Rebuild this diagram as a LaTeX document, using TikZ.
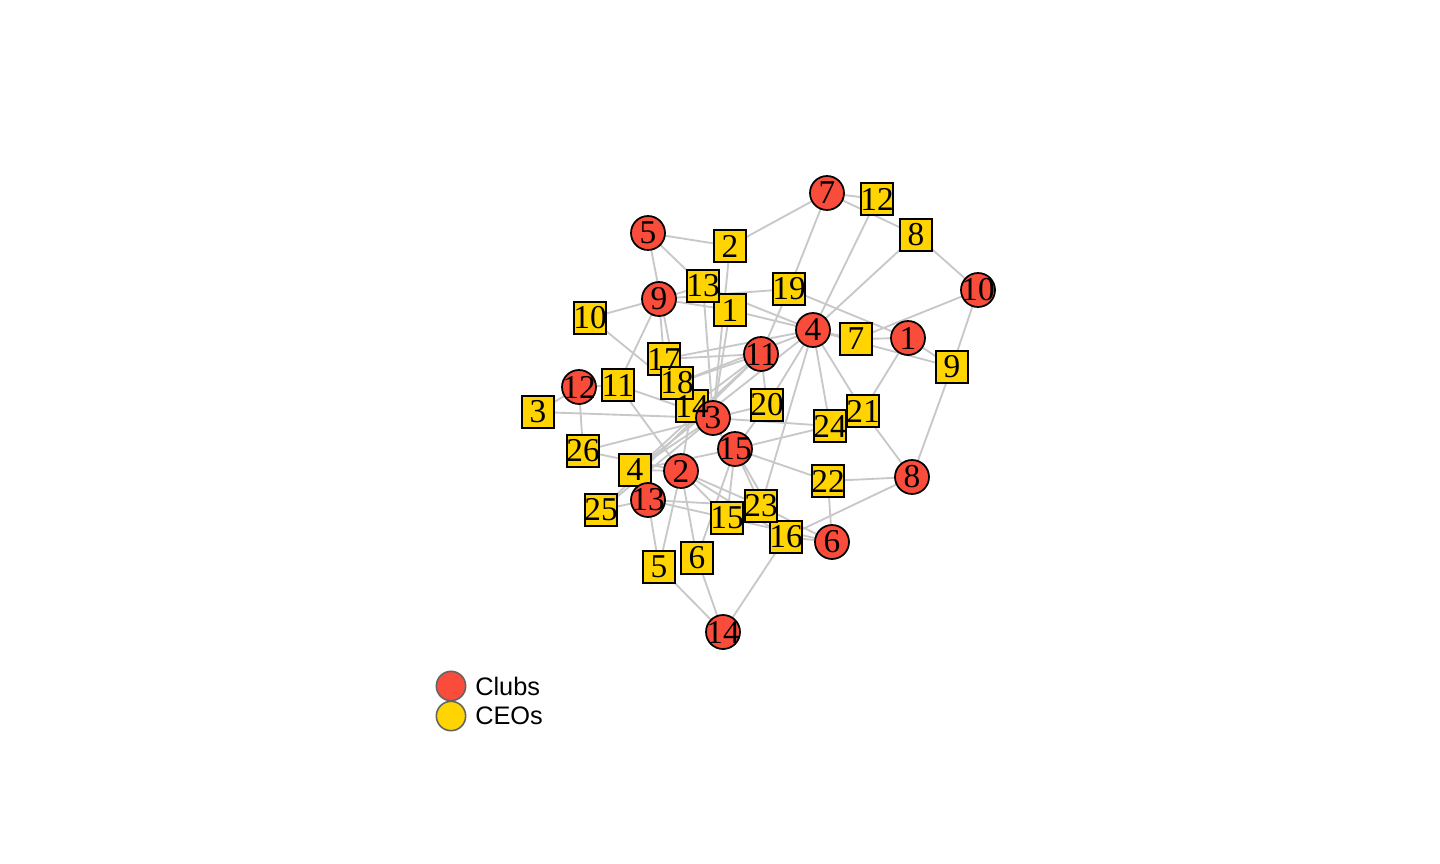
\documentclass[tikz,border=0pt]{standalone}
\usepackage{fontspec}
\setmainfont{Liberation Serif}
\newfontfamily\legendfont{Liberation Sans}
\definecolor{clubred}{RGB}{250,76,58}
\definecolor{ceogold}{RGB}{255,212,0}
\definecolor{edgegray}{RGB}{200,200,200}
\definecolor{legborder}{RGB}{100,100,100}
\tikzset{
  club/.style={circle,draw=black,line width=1.3pt,fill=clubred,minimum size=25.5pt,inner sep=0pt},
  ceo/.style={rectangle,draw=black,line width=1.3pt,fill=ceogold,minimum size=24.5pt,inner sep=0pt},
  vlabel/.style={inner sep=0pt,font=\fontsize{25}{25}\selectfont},
  tie/.style={draw=edgegray,line width=1.4pt},
  legdot/.style={circle,draw=legborder,line width=1.2pt,minimum size=22pt,inner sep=0pt},
  legtext/.style={anchor=west,inner sep=0pt,font=\legendfont\fontsize{19}{19}\selectfont}
}
\begin{document}
\begin{tikzpicture}[x=0.75pt,y=-0.75pt]
\useasboundingbox (0,0) rectangle (1440,864);
% coordinates
\foreach \n/\x/\y in {c1/908/338,c2/681/471,c3/713/418,c4/813/330,c5/648/233,c6/832/542,c7/827/193,c8/912/477,c9/659/299,c10/978/290,c11/761/354,c12/579/387,c13/648/500,c14/723/632,c15/735/449,
 e1/730/310,e2/730/246,e3/538/412,e4/635/470,e5/659/567,e6/697/558,e7/856/339,e8/916/235,e9/952/367,e10/590/318,e11/618/385,e12/877/199,e13/703/286,e14/692/406,e15/727/518,e16/786/537,e17/664/359,e18/677/383,e19/789/289,e20/767/405,e21/863/411,e22/828/481,e23/761/506,e24/830/426,e25/601/510,e26/583/451}
  {\coordinate (p\n) at (\x,\y);}
% edges
\foreach \a/\b in {c1/e19,c1/e9,c1/e21,c1/e7,
 c2/e4,c2/e26,c2/e6,c2/e5,c2/e23,c2/e16,c2/e11,c2/e14,c2/e15,
 c3/e3,c3/e26,c3/e20,c3/e24,c3/e14,c3/e18,c3/e10,c3/e2,c3/e1,c3/e13,c3/e25,c3/e4,c3/e11,c3/e17,
 c4/e12,c4/e8,c4/e7,c4/e9,c4/e21,c4/e24,c4/e1,c4/e13,c4/e20,c4/e23,c4/e18,c4/e17,c4/e4,
 c5/e2,c5/e13,c5/e18,
 c6/e22,c6/e16,c6/e23,c6/e15,
 c7/e2,c7/e12,c7/e8,c7/e19,
 c8/e21,c8/e9,c8/e22,c8/e16,
 c9/e10,c9/e13,c9/e1,c9/e17,c9/e11,c9/e19,
 c10/e8,c10/e9,c10/e7,
 c11/e19,c11/e17,c11/e20,c11/e18,c11/e14,c11/e25,c11/e4,
 c12/e3,c12/e11,c12/e26,
 c13/e4,c13/e25,c13/e5,c13/e15,c13/e23,
 c14/e5,c14/e6,c14/e16,
 c15/e24,c15/e22,c15/e16,c15/e23,c15/e15,c15/e20,c15/e14,c15/e6,c15/e4}
  {\draw[tie] (p\a) -- (p\b);}
% CEO shapes
\foreach \i in {1,...,26} {\node[ceo] (n\i) at (pe\i) {};}
% Club shapes
\foreach \i in {1,...,15} {\node[club] (m\i) at (pc\i) {};}
% labels
\foreach \i in {1,...,26} {\node[vlabel] (tn\i) at (n\i) {\i};}
\foreach \i in {1,...,15} {\node[vlabel] (tm\i) at (m\i) {\i};}
% legend
\node[legdot,fill=clubred] (lc) at (451,686) {};
\node[legdot,fill=ceogold] (le) at (451,716) {};
\node[legtext] (lct) at (475,686) {Clubs};
\node[legtext] (let) at (475,716) {CEOs};
\end{tikzpicture}
\end{document}
